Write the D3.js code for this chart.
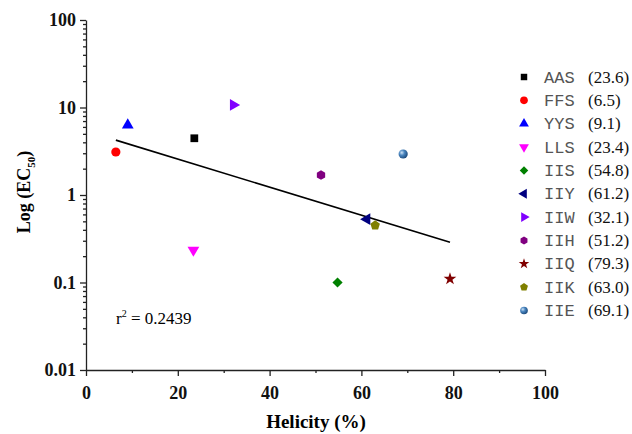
<!DOCTYPE html>
<html>
<head>
<meta charset="utf-8">
<script src="https://cdn.jsdelivr.net/npm/d3@7"></script>
<style>
  body { margin: 0; background: #fff; }
  svg { font-family: "Liberation Serif", "Times New Roman", serif; }
  .axis path, .axis line { stroke: #222; stroke-width: 1.3; }
  .axis text { font-size: 18px; font-weight: bold; fill: #111; font-family: "Liberation Serif", serif; }
</style>
</head>
<body>
<svg id="chart" width="632" height="434"></svg>
<script>
// peptide data
const names    = ['AAS', 'FFS', 'YYS', 'LLS', 'IIS', 'IIY', 'IIW', 'IIH', 'IIQ', 'IIK', 'IIE'];
const helicity = [23.6, 6.5, 9.1, 23.4, 54.8, 61.2, 32.1, 51.2, 79.3, 63.0, 69.1];
const ec50     = [4.45, 3.1, 6.3, 0.235, 0.1, 0.53, 10.7, 1.69, 0.11, 0.45, 2.94];
const colors   = ['#000000', '#ff0000', '#0000ff', '#ff00ff', '#008000', '#000080', '#8000ff', '#800080', '#800000', '#808000', '#4682b4'];
const shapes   = ['square', 'circle', 'up', 'down', 'diamond', 'left', 'right', 'hexagon', 'star', 'pentagon', 'sphere'];

const xTicks = [0, 20, 40, 60, 80, 100];
const yTicks = [0.01, 0.1, 1, 10, 100];
const yTickLabels = ['0.01', '0.1', '1', '10', '100'];

const svg = d3.select('#chart');
const m = {left: 86, right: 545, top: 20, bottom: 370};

const x = d3.scaleLinear().domain([0, 100]).range([m.left, m.right]);
const y = d3.scaleLog().domain([0.01, 100]).range([m.bottom, m.top]);

// minor ticks
let xMinor = d3.range(10, 100, 20);
let yMinor = [];
for (let d = 0.01; d < 99; d *= 10) {
  for (let k = 2; k <= 9; k++) yMinor.push(d * k);
}

svg.append('g').attr('class', 'axis')
  .attr('transform', `translate(0,${m.bottom})`)
  .call(d3.axisBottom(x).tickValues(xMinor).tickSize(3).tickFormat(''))
  .select('.domain').remove();
svg.append('g').attr('class', 'axis')
  .attr('transform', `translate(0,${m.bottom})`)
  .call(d3.axisBottom(x).tickValues(xTicks).tickSize(6).tickPadding(6).tickSizeOuter(0))
  .selectAll('text').attr('dy', '0.95em');

svg.append('g').attr('class', 'axis')
  .attr('transform', `translate(${m.left},0)`)
  .call(d3.axisLeft(y).tickValues(yMinor).tickSize(3).tickFormat(''))
  .select('.domain').remove();
svg.append('g').attr('class', 'axis')
  .attr('transform', `translate(${m.left},0)`)
  .call(d3.axisLeft(y).tickValues(yTicks).tickSize(6).tickPadding(4).tickSizeOuter(0)
    .tickFormat((d, i) => yTickLabels[i]));

// regression line of log10(EC50) on helicity
let lx = helicity, ly = ec50.map(v => Math.log10(v));
let mx = d3.mean(lx), my = d3.mean(ly);
let sxy = d3.sum(lx, (v, i) => (v - mx) * (ly[i] - my));
let sxx = d3.sum(lx, v => (v - mx) * (v - mx));
let slope = sxy / sxx, icpt = my - slope * mx;
let fitX = [d3.min(helicity), d3.max(helicity)];
svg.append('path')
  .attr('d', d3.line().x(d => x(d)).y(d => y(Math.pow(10, icpt + slope * d)))(fitX))
  .attr('fill', 'none')
  .attr('stroke', '#000')
  .attr('stroke-width', 1.6);

// sphere gradient
let defs = svg.append('defs');
let grad = defs.append('radialGradient').attr('id', 'sph')
  .attr('cx', '35%').attr('cy', '35%').attr('r', '65%');
grad.append('stop').attr('offset', '0%').attr('stop-color', '#cfe3f5');
grad.append('stop').attr('offset', '45%').attr('stop-color', '#4a86c0');
grad.append('stop').attr('offset', '100%').attr('stop-color', '#1f4e80');

function polygon(n, r, rot) {
  let pts = d3.range(n).map(i => {
    let a = rot + i * 2 * Math.PI / n;
    return [r * Math.cos(a), r * Math.sin(a)];
  });
  return 'M' + pts.join('L') + 'Z';
}

// draws a marker into g
function marker(g, shape, color, s) {
  let k = s / 9;
  if (shape == 'square') {
    g.append('path').attr('d', d3.symbol(d3.symbolSquare, 60 * k * k)()).attr('fill', color);
  } else if (shape == 'circle') {
    g.append('circle').attr('r', 4.6 * k).attr('fill', color);
  } else if (shape == 'up' || shape == 'down' || shape == 'left' || shape == 'right') {
    let rot = {up: 0, down: 180, left: -90, right: 90}[shape];
    g.append('path').attr('d', d3.symbol(d3.symbolTriangle, 60 * k * k)())
      .attr('transform', `rotate(${rot})`).attr('fill', color);
  } else if (shape == 'diamond') {
    g.append('path').attr('d', d3.symbol(d3.symbolSquare, 52 * k * k)())
      .attr('transform', 'rotate(45)').attr('fill', color);
  } else if (shape == 'hexagon') {
    g.append('path').attr('d', polygon(6, 4.8 * k, Math.PI / 2)).attr('fill', color);
  } else if (shape == 'pentagon') {
    g.append('path').attr('d', polygon(5, 5 * k, -Math.PI / 2)).attr('fill', color);
  } else if (shape == 'star') {
    g.append('path').attr('d', d3.symbol(d3.symbolStar, 50 * k * k)()).attr('fill', color);
  } else if (shape == 'sphere') {
    g.append('circle').attr('r', 4.6 * k).attr('fill', 'url(#sph)');
  }
}

// points
helicity.forEach((h, i) => {
  let g = svg.append('g').attr('transform', `translate(${x(h)},${y(ec50[i])})`);
  marker(g, shapes[i], colors[i], 9);
});

// legend
names.forEach((n, i) => {
  let ly0 = 77 + i * 23.35;
  let g = svg.append('g').attr('transform', `translate(524,${ly0})`);
  marker(g, shapes[i], colors[i], 7.5);
  svg.append('text').attr('x', 544).attr('y', ly0 + 5.5)
    .style('font-family', '"Liberation Mono", "Courier New", monospace')
    .style('font-size', '17px').style('fill', '#555')
    .text(n);
  svg.append('text').attr('x', 588).attr('y', ly0 + 5.5)
    .style('font-size', '17px').style('fill', '#111')
    .text(`(${helicity[i].toFixed(1)})`);
});

// r2 note
let rt = svg.append('text').attr('x', 116).attr('y', 324).style('font-size', '17px');
rt.append('tspan').text('r');
rt.append('tspan').attr('dy', -7).style('font-size', '10px').text('2');
rt.append('tspan').attr('dy', 7).text(' = 0.2439');

// axis titles
svg.append('text').attr('x', 316).attr('y', 428)
  .attr('text-anchor', 'middle')
  .style('font-size', '19px').style('font-weight', 'bold')
  .text('Helicity (%)');

let yt = svg.append('text')
  .attr('transform', 'translate(30,192) rotate(-90)')
  .attr('text-anchor', 'middle')
  .style('font-size', '18px').style('font-weight', 'bold');
yt.append('tspan').text('Log (EC');
yt.append('tspan').attr('dy', 5).style('font-size', '11px').text('50');
yt.append('tspan').attr('dy', -5).text(')');
</script>
</body>
</html>
